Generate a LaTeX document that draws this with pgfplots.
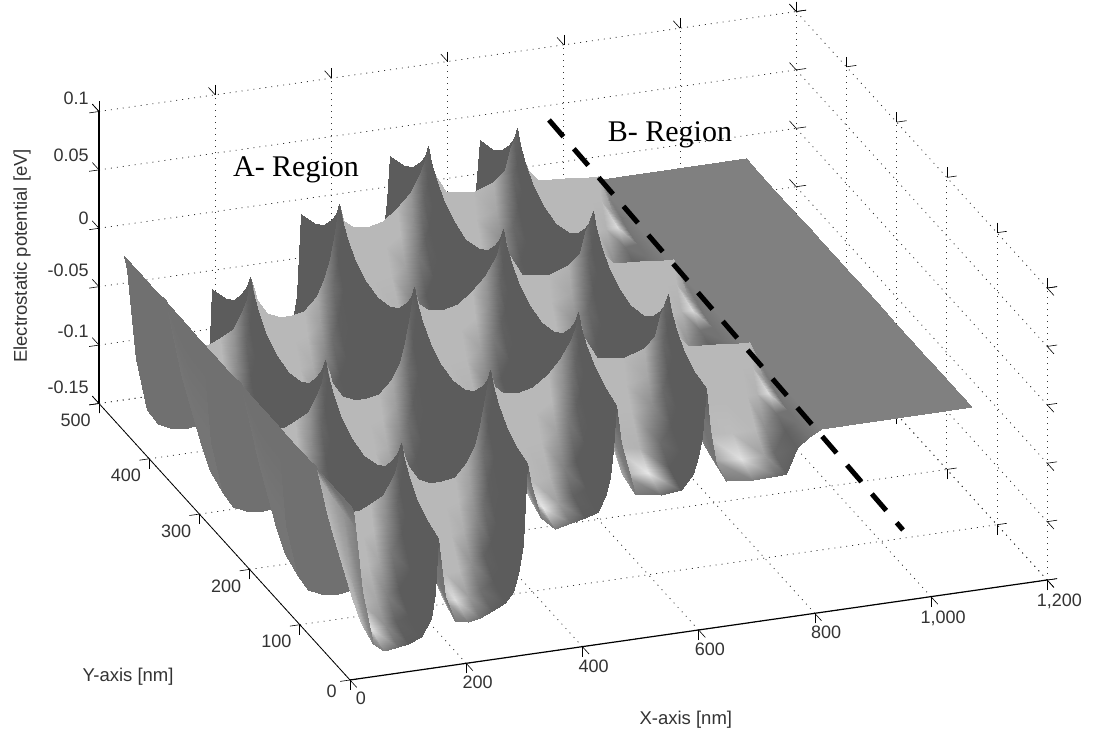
\documentclass[border=0pt]{standalone}
\usepackage{pgfplots}
\usepackage{pgfplotstable}
\usepackage{fontspec}
\setmainfont{Liberation Sans}
\newfontfamily\serifA{Liberation Serif}
\pgfplotsset{compat=1.18}
\pgfplotstableread{
x y z m
1070 150 .0075 .5
810 150 .0075 .5
790 150 .002 .44
770 150 -.006 .38
751 150 -.027 .36
735 150 -.028 .36
694 150 -.028 .36
647 150 -.026 .36
630 150 -.01 .36
620 150 .02 .36
612 150 .056 .36
606 150 .015 .36
599 150 -.002 .36
590 150 -.016 .36
570 150 -.028 .36
535 150 -.03 .36
490 150 -.026 .36
466 150 .02 .36
458 150 .053 .36
453 150 .015 .36
447 150 -.008 .36
440 150 -.022 .36
427 150 -.037 .36
405 150 -.04 .36
380 150 -.043 .36
353 150 -.046 .36
329 150 -.035 .36
312 150 -.005 .36
305 150 .014 .36
298 150 -.055 .36
289 150 -.08 .36
280 150 -.095 .36
267 150 -.103 .36
245 150 -.108 .36
224 150 -.113 .36
203 150 -.115 .36
181 150 -.112 .36
164 150 -.09 .36
158 150 -.07 .36
152 150 -.039 .36
1070 125 .0075 .5
810 125 .008 .5
790 125 .003 .44
770 125 -.003 .38
751 125 -.021 .36
735 125 -.022 .36
694 125 -.022 .36
647 125 -.02 .36
630 125 -.004 .36
620 125 .025 .36
612 125 .06 .36
606 125 .021 .36
599 125 .005 .36
590 125 -.009 .36
570 125 -.021 .36
535 125 -.023 .36
490 125 -.02 .36
466 125 .024 .36
458 125 .057 .36
453 125 .021 .36
447 125 -.001 .36
440 125 -.015 .36
427 125 -.029 .36
405 125 -.033 .36
380 125 -.037 .36
353 125 -.04 .36
329 125 -.029 .36
312 125 -.001 .36
305 125 .018 .36
298 125 -.048 .36
289 125 -.073 .36
280 125 -.088 .36
267 125 -.096 .36
245 125 -.102 .36
224 125 -.106 .36
203 125 -.108 .36
181 125 -.105 .36
164 125 -.084 .36
158 125 -.065 .36
152 125 -.035 .36
1070 107 .0075 .5
810 107 .008 .5
790 107 .0045 .44
770 107 .003 .38
751 107 -.008 .36
735 107 -.008 .36
694 107 -.008 .36
647 107 -.006 .36
630 107 .009 .36
620 107 .035 .36
612 107 .067 .36
606 107 .034 .36
599 107 .02 .36
590 107 .005 .36
570 107 -.007 .36
535 107 -.01 .36
490 107 -.006 .36
466 107 .034 .36
458 107 .064 .36
453 107 .033 .36
447 107 .013 .36
440 107 .001 .36
427 107 -.013 .36
405 107 -.018 .36
380 107 -.023 .36
353 107 -.026 .36
329 107 -.017 .36
312 107 .007 .36
305 107 .025 .36
298 107 -.033 .36
289 107 -.057 .36
280 107 -.072 .36
267 107 -.082 .36
245 107 -.088 .36
224 107 -.093 .36
203 107 -.094 .36
181 107 -.09 .36
164 107 -.071 .36
158 107 -.054 .36
152 107 -.028 .36
1070 91 .0075 .5
810 91 .008 .5
790 91 .007 .44
770 91 .013 .38
751 91 .013 .36
735 91 .013 .36
694 91 .014 .36
647 91 .016 .36
630 91 .028 .36
620 91 .05 .36
612 91 .079 .36
606 91 .055 .36
599 91 .043 .36
590 91 .027 .36
570 91 .017 .36
535 91 .013 .36
490 91 .016 .36
466 91 .049 .36
458 91 .076 .36
453 91 .051 .36
447 91 .036 .36
440 91 .026 .36
427 91 .013 .36
405 91 .006 .36
380 91 -.001 .36
353 91 -.004 .36
329 91 .002 .36
312 91 .02 .36
305 91 .037 .36
298 91 -.008 .36
289 91 -.032 .36
280 91 -.048 .36
267 91 -.059 .36
245 91 -.067 .36
224 91 -.07 .36
203 91 -.071 .36
181 91 -.067 .36
164 91 -.05 .36
158 91 -.036 .36
152 91 -.015 .36
1070 81 .0075 .5
810 81 .008 .5
790 81 .0096 .44
770 81 .021 .38
751 81 .032 .36
735 81 .032 .36
694 81 .034 .36
647 81 .035 .36
630 81 .046 .36
620 81 .064 .36
612 81 .09 .36
606 81 .074 .36
599 81 .063 .36
590 81 .047 .36
570 81 .037 .36
535 81 .032 .36
490 81 .036 .36
466 81 .063 .36
458 81 .086 .36
453 81 .068 .36
447 81 .056 .36
440 81 .048 .36
427 81 .036 .36
405 81 .027 .36
380 81 .019 .36
353 81 .016 .36
329 81 .02 .36
312 81 .032 .36
305 81 .047 .36
298 81 .013 .36
289 81 -.01 .36
280 81 -.026 .36
267 81 -.038 .36
245 81 -.048 .36
224 81 -.051 .36
203 81 -.051 .36
181 81 -.047 .36
164 81 -.032 .36
158 81 -.02 .36
152 81 -.004 .36
1070 75 .0075 .5
810 75 .0085 .5
790 75 .012 .46
770 75 .03 .5
751 75 .05 .72
735 75 .051 .72
694 75 .053 .72
647 75 .054 .72
630 75 .064 .72
620 75 .078 .72
612 75 .101 .36
606 75 .092 .39
599 75 .084 .45
590 75 .067 .52
570 75 .058 .69
535 75 .052 .72
490 75 .055 .72
466 75 .076 .72
458 75 .097 .36
453 75 .085 .38
447 75 .076 .43
440 75 .07 .49
427 75 .059 .6
405 75 .048 .72
380 75 .038 .72
353 75 .035 .72
329 75 .037 .72
312 75 .044 .72
305 75 .058 .36
298 75 .035 .39
289 75 .012 .47
280 75 -.004 .55
267 75 -.018 .66
245 75 -.029 .72
224 75 -.031 .72
203 75 -.031 .72
181 75 -.026 .72
164 75 -.014 .72
158 75 -.004 .72
152 75 .0065 .36
1070 69 .0075 .5
810 69 .008 .5
790 69 .0096 .46
770 69 .021 .6
751 69 .032 .72
735 69 .032 .72
694 69 .034 .72
647 69 .035 .72
630 69 .046 .72
620 69 .064 .72
612 69 .09 .36
606 69 .074 .36
599 69 .063 .4
590 69 .047 .48
570 69 .037 .65
535 69 .032 .72
490 69 .036 .72
466 69 .063 .72
458 69 .086 .36
453 69 .068 .36
447 69 .056 .39
440 69 .048 .45
427 69 .036 .56
405 69 .027 .72
380 69 .019 .72
353 69 .016 .72
329 69 .02 .72
312 69 .032 .72
305 69 .047 .36
298 69 .013 .36
289 69 -.01 .43
280 69 -.026 .51
267 69 -.038 .62
245 69 -.048 .72
224 69 -.051 .72
203 69 -.051 .72
181 69 -.047 .72
164 69 -.032 .72
158 69 -.02 .72
152 69 -.004 .36
1070 59 .0075 .5
810 59 .008 .5
790 59 .007 .46
770 59 .013 .85
751 59 .013 .7
735 59 .013 .72
694 59 .014 .72
647 59 .016 .72
630 59 .028 .72
620 59 .05 .7
612 59 .079 .36
606 59 .055 .36
599 59 .043 .36
590 59 .027 .41
570 59 .017 .55
535 59 .013 .72
490 59 .016 .72
466 59 .049 .72
458 59 .076 .36
453 59 .051 .36
447 59 .036 .36
440 59 .026 .38
427 59 .013 .48
405 59 .006 .63
380 59 -.001 .72
353 59 -.004 .72
329 59 .002 .72
312 59 .02 .72
305 59 .037 .36
298 59 -.008 .36
289 59 -.032 .37
280 59 -.048 .43
267 59 -.059 .53
245 59 -.067 .68
224 59 -.07 .72
203 59 -.071 .72
181 59 -.067 .72
164 59 -.05 .72
158 59 -.036 .72
152 59 -.015 .36
1070 43 .0075 .5
810 43 .008 .5
790 43 .0045 .45
770 43 .003 .45
751 43 -.008 .55
735 43 -.008 .72
694 43 -.008 .74
647 43 -.006 .72
630 43 .009 .65
620 43 .035 .6
612 43 .067 .36
606 43 .034 .36
599 43 .02 .36
590 43 .005 .36
570 43 -.007 .42
535 43 -.01 .7
490 43 -.006 .72
466 43 .034 .72
458 43 .064 .36
453 43 .033 .36
447 43 .013 .36
440 43 .001 .36
427 43 -.013 .36
405 43 -.018 .5
380 43 -.023 .7
353 43 -.026 .72
329 43 -.017 .72
312 43 .007 .72
305 43 .025 .36
298 43 -.033 .36
289 43 -.057 .36
280 43 -.072 .36
267 43 -.082 .38
245 43 -.088 .56
224 43 -.093 .72
203 43 -.094 .72
181 43 -.09 .72
164 43 -.071 .72
158 43 -.054 .72
152 43 -.028 .36
1070 25 .0075 .5
810 25 .008 .5
790 25 .003 .45
770 25 -.003 .38
751 25 -.021 .42
735 25 -.022 .62
694 25 -.022 .88
647 25 -.02 .62
630 25 -.004 .5
620 25 .025 .45
612 25 .06 .36
606 25 .021 .36
599 25 .005 .36
590 25 -.009 .36
570 25 -.021 .36
535 25 -.023 .9
490 25 -.02 .65
466 25 .024 .5
458 25 .057 .36
453 25 .021 .36
447 25 -.001 .36
440 25 -.015 .36
427 25 -.029 .36
405 25 -.033 .38
380 25 -.037 .62
353 25 -.04 .9
329 25 -.029 .66
312 25 -.001 .5
305 25 .018 .36
298 25 -.048 .36
289 25 -.073 .36
280 25 -.088 .36
267 25 -.096 .36
245 25 -.102 .44
224 25 -.106 .61
203 25 -.108 .86
181 25 -.105 .68
164 25 -.084 .5
158 25 -.065 .46
152 25 -.035 .36
1070 0 .0075 .5
810 0 .0075 .5
790 0 .002 .45
770 0 -.006 .38
751 0 -.027 .38
735 0 -.028 .42
694 0 -.028 .5
647 0 -.026 .48
630 0 -.01 .45
620 0 .02 .45
612 0 .056 .36
606 0 .015 .36
599 0 -.002 .36
590 0 -.016 .36
570 0 -.028 .36
535 0 -.03 .43
490 0 -.026 .48
466 0 .02 .45
458 0 .053 .36
453 0 .015 .36
447 0 -.008 .36
440 0 -.022 .36
427 0 -.037 .36
405 0 -.04 .36
380 0 -.043 .43
353 0 -.046 .48
329 0 -.035 .48
312 0 -.005 .45
305 0 .014 .36
298 0 -.055 .36
289 0 -.08 .36
280 0 -.095 .36
267 0 -.103 .36
245 0 -.108 .375
224 0 -.113 .44
203 0 -.115 .48
181 0 -.112 .48
164 0 -.09 .45
158 0 -.07 .45
152 0 -.039 .36
}\tabD
\pgfplotstableread{
x y z m
152 150 -.039 .36
146 150 -.1 .36
140 150 -.13 .38
122 150 -.148 .44
100 150 -.15 .44
82 150 -.15 .44
58 150 -.148 .44
40 150 -.135 .44
20 150 -.09 .44
9 150 -.03 .44
5 150 -.012 .44
0 150 0 .44
152 125 -.035 .36
146 125 -.093 .36
140 125 -.121 .38
122 125 -.139 .44
100 125 -.141 .44
82 125 -.142 .44
58 125 -.14 .44
40 125 -.128 .44
20 125 -.085 .44
9 125 -.028 .44
5 125 -.011 .44
0 125 0 .44
152 107 -.028 .36
146 107 -.078 .36
140 107 -.103 .38
122 107 -.12 .44
100 107 -.123 .44
82 107 -.124 .44
58 107 -.123 .44
40 107 -.113 .44
20 107 -.075 .44
9 107 -.025 .44
5 107 -.0095 .44
0 107 0 .44
152 91 -.015 .36
146 91 -.054 .36
140 91 -.073 .38
122 91 -.09 .44
100 91 -.094 .44
82 91 -.096 .44
58 91 -.095 .44
40 91 -.088 .44
20 91 -.059 .44
9 91 -.019 .44
5 91 -.007 .44
0 91 0 .44
152 81 -.004 .36
146 81 -.033 .36
140 81 -.046 .38
122 81 -.063 .44
100 81 -.068 .44
82 81 -.071 .44
58 81 -.071 .44
40 81 -.067 .44
20 81 -.044 .44
9 81 -.014 .44
5 81 -.0044 .44
0 81 0 .44
152 75 .0065 .36
146 75 -.012 .36
140 75 -.02 .38
122 75 -.036 .44
100 75 -.042 .44
82 75 -.046 .44
58 75 -.047 .44
40 75 -.045 .44
20 75 -.03 .44
9 75 -.009 .44
5 75 -.002 .44
0 75 0 .44
}\tabChi
\pgfplotstableread{
x y z m
152 75 .0065 .36
146 75 -.012 .39
140 75 -.02 .44
122 75 -.036 .59
100 75 -.042 .72
82 75 -.046 .72
58 75 -.047 .72
40 75 -.045 .6
20 75 -.03 .46
9 75 -.009 .44
5 75 -.002 .44
0 75 0 .44
152 69 -.004 .36
146 69 -.033 .36
140 69 -.046 .4
122 69 -.063 .55
100 69 -.068 .72
82 69 -.071 .72
58 69 -.071 .72
40 69 -.067 .55
20 69 -.044 .46
9 69 -.014 .44
5 69 -.0044 .44
0 69 0 .44
152 59 -.015 .36
146 59 -.054 .36
140 59 -.073 .36
122 59 -.09 .47
100 59 -.094 .65
82 59 -.096 .72
58 59 -.095 .65
40 59 -.088 .5
20 59 -.059 .46
9 59 -.019 .44
5 59 -.007 .44
0 59 0 .44
152 43 -.028 .36
146 43 -.078 .36
140 43 -.103 .36
122 43 -.12 .36
100 43 -.123 .5
82 43 -.124 .6
58 43 -.123 .48
40 43 -.113 .46
20 43 -.075 .46
9 43 -.025 .44
5 43 -.0095 .44
0 43 0 .44
152 25 -.035 .36
146 25 -.093 .36
140 25 -.121 .36
122 25 -.139 .36
100 25 -.141 .38
82 25 -.142 .46
58 25 -.14 .46
40 25 -.128 .46
20 25 -.085 .46
9 25 -.028 .44
5 25 -.011 .44
0 25 0 .44
152 0 -.039 .36
146 0 -.1 .36
140 0 -.13 .36
122 0 -.148 .36
100 0 -.15 .36
82 0 -.15 .42
58 0 -.148 .46
40 0 -.135 .46
20 0 -.09 .46
9 0 -.03 .44
5 0 -.012 .44
0 0 0 .44
}\tabClo
\pgfplotstableread{
x y z m
152 75 .0065 .36
146 75 -.012 .39
140 75 -.02 .44
122 75 -.036 .59
100 75 -.042 .72
82 75 -.046 .72
58 75 -.047 .72
40 75 -.045 .72
20 75 -.03 .72
9 75 -.009 .66
5 75 -.002 .44
0 75 0 .44
152 69 -.004 .36
146 69 -.03 .36
140 69 -.041 .4
122 69 -.057 .55
100 69 -.062 .72
82 69 -.066 .72
58 69 -.067 .72
40 69 -.063 .72
20 69 -.041 .72
9 69 -.012 .66
5 69 -.003 .44
0 69 0 .44
152 59 -.015 .36
146 59 -.048 .36
140 59 -.062 .36
122 59 -.077 .47
100 59 -.082 .65
82 59 -.085 .72
58 59 -.086 .72
40 59 -.082 .72
20 59 -.052 .72
9 59 -.014 .66
5 59 -.004 .44
0 59 0 .44
152 43 -.028 .36
146 43 -.068 .36
140 43 -.086 .36
122 43 -.101 .36
100 43 -.105 .5
82 43 -.108 .65
58 43 -.109 .72
40 43 -.103 .72
20 43 -.064 .7
9 43 -.017 .62
5 43 -.005 .44
0 43 0 .44
152 25 -.035 .36
146 25 -.08 .36
140 25 -.101 .36
122 25 -.115 .36
100 25 -.119 .38
82 25 -.121 .55
58 25 -.122 .88
40 25 -.116 .72
20 25 -.071 .65
9 25 -.019 .58
5 25 -.006 .44
0 25 0 .44
152 0 -.039 .36
146 0 -.086 .36
140 0 -.108 .36
122 0 -.122 .36
100 0 -.126 .36
82 0 -.128 .42
58 0 -.129 .5
40 0 -.122 .5
20 0 -.075 .5
9 0 -.02 .5
5 0 -.006 .44
0 0 0 .44
}\tabCf
\pgfplotsset{
  mysurf/.style={surf,shader=interp,z buffer=none,mesh/ordering=x varies,mesh/cols=#1,point meta=explicit},
}
\begin{document}
\begin{tikzpicture}
\begin{axis}[
  x={(0.581pt,0.0833pt)},y={(-0.502pt,0.553pt)},z={(0pt,1168pt)},
  xmin=0,xmax=1200,ymin=0,ymax=500,zmin=-0.15,zmax=0.1,
  clip=false,
  axis line style={draw=none},
  grid=major,
  grid style={black!80,line width=0.8pt,dash pattern=on 1pt off 5pt},
  xtick={0,200,400,600,800,1000,1200},
  ytick={0,100,200,300,400,500},
  ztick={-0.15,-0.1,-0.05,0,0.05,0.1},
  tick align=outside,
  tick style={black,line width=0.6pt},
  major tick length=10pt,
  /pgf/number format/assume math mode=true,
  /pgf/number format/fixed,
  /pgf/number format/precision=2,
  tick label style={font=\fontsize{18}{20}\selectfont,text=black!80},
  colormap={grayy}{gray(0cm)=(0);gray(1cm)=(1)},
  point meta min=0,point meta max=1,
  xlabel={X-axis [nm]},ylabel={Y-axis [nm]},zlabel={Electrostatic potential [eV]},
  every axis x label/.style={at={(axis cs:578,0,-0.2253)},anchor=center,font=\fontsize{18.5}{20}\selectfont,text=black!80},
  every axis y label/.style={at={(axis cs:0,442,-0.3566)},anchor=center,font=\fontsize{18.5}{20}\selectfont,text=black!80},
  every axis z label/.style={at={(axis cs:-564.5,0,0.2533)},anchor=center,rotate=90,font=\fontsize{18.5}{20}\selectfont,text=black!80},
]
\addplot3[mysurf=40] table[x=x,y expr=\thisrow{y}+300,z=z,meta=m]{\tabD};
\addplot3[mysurf=12] table[x=x,y expr=\thisrow{y}+300,z=z,meta=m]{\tabChi};
\addplot3[mysurf=12] table[x=x,y expr=\thisrow{y}+300,z=z,meta=m]{\tabClo};
\addplot3[mysurf=40] table[x=x,y expr=\thisrow{y}+150,z=z,meta=m]{\tabD};
\addplot3[mysurf=12] table[x=x,y expr=\thisrow{y}+150,z=z,meta=m]{\tabChi};
\addplot3[mysurf=12] table[x=x,y expr=\thisrow{y}+150,z=z,meta=m]{\tabClo};
\addplot3[mysurf=40] table[x=x,y=y,z=z,meta=m]{\tabD};
\addplot3[mysurf=12] table[x=x,y=y,z=z,meta=m]{\tabChi};
\addplot3[mysurf=12] table[x=x,y=y,z=z,meta=m]{\tabCf};
\coordinate (O) at (axis cs:0,0,-0.15);
\end{axis}
\begin{scope}[shift={(O)},x=1pt,y=1pt]
\path (-350,-55) rectangle (764,680);
\draw[black,line width=1.2pt] (0,0) -- (697,100);
\draw[black,line width=0.8pt] (0,0) -- (-251,276.5);
\draw[black,line width=1.3pt] (-251,276.5) -- (-251,568.5);
\draw[black,line width=5pt,dash pattern=on 22pt off 16pt] (199,560) -- (553,150);
\node[font=\serifA\fontsize{30}{32}\selectfont] at (-54,510) {A- Region};
\node[font=\serifA\fontsize{30}{32}\selectfont] at (320,545) {B- Region};
\end{scope}
\end{tikzpicture}
\end{document}
